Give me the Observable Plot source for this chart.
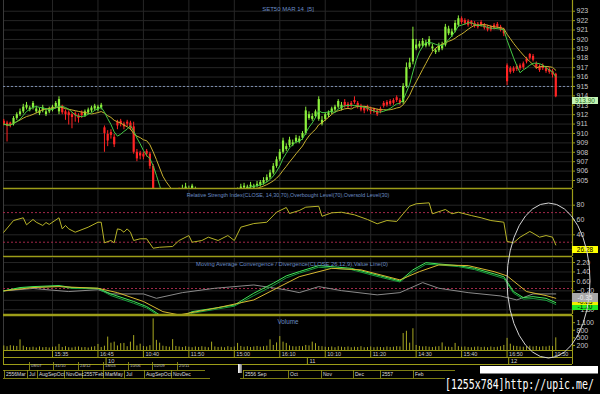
<!DOCTYPE html>
<html><head><meta charset="utf-8">
<script src="https://cdn.jsdelivr.net/npm/d3@7"></script>
<script src="https://cdn.jsdelivr.net/npm/@observablehq/plot@0.6"></script>
<style>
body{margin:0;background:#000;}
#wrap{position:relative;width:600px;height:394px;background:#000;overflow:hidden;font-family:'Liberation Sans',Arial,sans-serif;}
.pn{position:absolute;left:0;width:600px;}
.pn svg{display:block;overflow:visible;}
.box{position:absolute;left:572px;width:26px;height:7px;font-size:6.5px;line-height:7px;text-align:center;}
</style></head>
<body><div id="wrap"></div>
<script>
// ---------- DATA ----------
const title = "SET50 MAR 14  [5]";
const open = [
911.3,911.1,911.1,911.0,911.6,912.0,912.3,912.7,912.5,912.7,
912.3,912.1,912.4,912.0,912.3,912.5,912.8,912.3,912.9,912.3,
912.2,912.0,912.1,911.9,912.2,911.9,912.2,912.4,912.6,912.5,
912.7,910.6,909.9,910.1,909.6,911.2,911.3,911.0,911.2,911.1,
910.7,908.0,907.9,907.8,908.1,907.8,906.5,903.5,902.6,902.2,
902.5,902.9,903.2,903.6,904.0,903.8,904.0,903.9,904.1,903.8,
903.4,903.0,902.8,902.6,902.5,902.8,903.0,902.9,903.1,903.3,
903.4,903.6,903.8,904.0,904.2,904.1,904.3,904.2,904.4,904.5,
904.7,905.0,905.3,905.8,906.5,907.2,908.0,908.3,908.7,908.8,
909.1,909.1,909.5,910.0,911.6,911.5,911.8,911.5,911.0,911.5,
911.9,912.2,912.5,912.8,912.6,913.3,913.1,913.2,913.5,913.2,
912.9,912.7,912.8,912.6,912.6,912.4,912.6,913.2,913.3,913.4,
913.5,913.8,913.5,913.3,915.0,917.0,917.6,919.0,919.2,919.3,
919.3,919.4,919.0,918.6,918.8,919.0,919.4,920.6,920.4,920.9,
921.5,922.2,922.0,921.9,921.9,921.7,921.6,921.8,921.5,921.3,
921.3,921.5,921.6,921.3,921.0,917.2,916.9,916.9,917.1,917.2,
917.4,917.9,918.4,918.2,917.4,917.1,917.2,916.9,916.8,916.6,
916.3];
const high = [
911.5,911.3,911.2,911.8,912.2,912.6,913.1,913.3,912.9,913.4,
912.9,912.7,913.0,912.6,912.8,913.0,913.4,913.9,913.0,912.5,
912.4,912.2,912.3,912.1,912.4,912.5,912.7,912.9,913.1,913.0,
913.2,910.8,910.3,910.4,909.9,911.4,911.5,911.2,911.4,911.3,
911.2,908.3,908.1,908.0,908.3,908.0,906.7,903.7,902.8,902.4,
902.7,903.1,903.4,903.8,904.2,904.5,904.7,904.4,904.6,904.3,
903.7,903.4,903.2,903.0,902.9,903.2,903.4,903.3,903.5,903.7,
903.8,904.0,904.2,904.6,904.7,904.5,904.8,904.6,904.9,905.0,
905.3,905.6,906.1,906.8,907.5,908.3,909.5,908.9,909.6,909.3,
909.8,909.7,910.2,912.8,912.3,912.1,912.5,913.9,911.8,912.2,
912.4,912.8,913.0,913.6,913.3,913.6,913.3,913.4,913.9,913.4,
913.1,912.9,913.0,912.8,912.7,912.6,912.8,913.4,913.5,913.6,
913.7,914.0,913.7,915.3,917.5,918.0,921.3,920.0,919.8,920.1,
919.9,920.3,919.5,919.0,919.6,919.7,921.6,921.4,921.1,922.0,
922.5,922.4,922.2,922.1,922.0,921.9,921.8,922.0,921.7,921.5,
921.5,921.7,921.8,921.5,921.2,917.4,917.1,917.1,917.3,917.4,
917.6,918.1,918.5,918.4,917.6,917.3,917.4,917.1,917.0,916.8,
916.4];
const low = [
910.8,909.1,910.6,910.8,911.4,911.8,912.1,912.5,912.3,912.5,
912.1,911.9,912.2,911.8,912.1,912.3,912.6,912.0,912.0,911.4,
910.9,910.5,911.2,911.1,911.6,911.7,912.0,912.2,912.4,912.3,
912.5,908.0,908.6,909.4,908.5,910.4,910.7,910.4,910.7,910.3,
907.8,907.0,907.2,907.2,907.5,906.2,903.2,902.2,901.7,901.5,
901.9,902.3,902.6,903.0,903.5,903.5,903.8,903.7,903.9,903.6,
903.1,902.8,902.6,902.4,902.3,902.6,902.8,902.7,902.9,903.1,
903.2,903.4,903.6,903.8,904.0,903.9,904.1,904.0,904.2,904.3,
904.5,904.8,905.1,905.6,906.3,907.0,907.8,908.1,908.5,908.6,
908.9,908.9,909.3,909.8,911.4,911.3,911.6,911.3,910.8,911.3,
911.7,912.0,912.3,912.6,912.4,912.7,912.6,912.7,913.1,912.6,
912.3,912.1,912.3,912.0,912.1,911.8,912.1,912.7,912.8,912.9,
913.0,913.3,913.0,913.1,914.8,916.8,917.3,918.8,919.0,919.1,
919.1,919.2,918.7,918.4,918.6,918.8,919.2,920.4,920.2,920.7,
921.3,921.6,921.5,921.3,921.4,921.2,921.1,921.3,921.0,920.8,
920.8,921.0,921.1,920.8,920.3,915.1,916.3,916.4,916.6,916.7,
916.8,917.4,917.8,917.6,916.8,916.5,916.7,916.4,916.3,915.9,
913.8];
const close = [
911.0,910.8,910.9,911.6,912.0,912.3,912.8,913.0,912.7,913.2,
912.6,912.4,912.7,912.3,912.6,912.8,913.2,913.6,912.2,912.0,
911.9,911.7,911.9,911.6,911.9,912.3,912.5,912.7,912.9,912.8,
913.0,910.0,909.2,909.8,908.8,910.8,911.0,910.7,911.0,910.6,
908.0,907.3,907.6,907.5,907.8,906.5,903.5,902.5,902.0,901.8,
902.2,902.6,902.9,903.3,903.8,904.0,904.3,904.1,904.4,904.0,
903.5,903.2,903.0,902.8,902.7,903.0,903.2,903.1,903.3,903.5,
903.6,903.8,904.0,904.3,904.4,904.3,904.5,904.4,904.6,904.8,
905.0,905.3,905.8,906.5,907.2,908.0,909.2,908.6,909.3,909.0,
909.5,909.4,910.0,912.4,912.0,911.8,912.3,913.6,911.4,912.0,
912.2,912.6,912.8,913.4,913.0,912.9,912.8,912.9,913.3,912.8,
912.5,912.4,912.5,912.3,912.3,912.0,912.3,912.9,913.0,913.1,
913.2,913.5,913.2,915.0,917.0,917.5,920.0,919.4,919.5,919.8,
919.6,920.0,919.2,918.8,919.3,919.4,921.3,921.1,920.8,921.7,
922.2,921.8,921.7,921.5,921.6,921.4,921.3,921.5,921.2,921.0,
921.0,921.2,921.3,921.0,920.6,915.5,916.5,916.6,916.8,916.9,
917.0,917.6,918.0,917.8,917.0,916.7,916.9,916.6,916.5,916.2,
913.9];
const volume = [
180,150,190,170,160,420,170,120,110,130,
100,140,110,120,100,130,140,240,120,150,
110,100,130,140,110,120,100,130,150,240,
120,170,530,290,330,180,270,280,150,330,
590,180,250,160,140,190,1250,400,290,170,
150,130,430,160,140,120,150,130,110,140,
120,150,130,110,330,140,120,130,110,150,
120,140,280,160,130,150,120,140,160,130,
150,170,420,200,300,550,330,280,180,150,
140,160,150,200,180,330,270,160,150,130,
120,140,110,150,130,120,140,110,130,120,
150,110,120,140,110,130,120,110,140,120,
130,150,140,670,760,290,860,200,160,140,
150,130,120,140,150,300,140,130,120,280,
150,130,140,120,110,130,140,120,130,110,
140,120,130,150,200,480,250,170,160,140,
130,150,170,140,160,130,150,140,170,160,
500];
const rsiBar = [0,3,6,7,9,10,12,13,14,17,18,19,20,22,26,29,30,31,33,34,35,36,37,38,39,40,42,44,46,48,52,54,57,58,61,63,66,69,71,73,77,81,84,87,88,91,93,97,98,101,104,108,112,115,118,121,123,125,127,131,132,136,138,140,144,147,150,154,155,157,159,162,163,165,167,169,170];
const rsiVal = [43.5,59.3,63,53.5,60.7,57,52.6,56.6,54,63,48,52.6,48,43.5,50.3,57,57,29.2,32.3,29.2,48,47,43.5,48,43.5,32.3,34.6,34.6,21.9,23.2,24.2,32.3,39,30,32.3,36.8,32.3,39,32.3,50.3,55.2,57,70.5,76.9,68.8,72.8,77.3,78.6,65,69.7,70.5,67,60.7,54.9,59.3,58,68.4,78.6,81.9,83.2,68.4,74.2,68.4,70.5,66,63,59.3,57,31,29.2,36.8,44.5,42.2,36.8,39,36.8,26.28];
const macdBar = [0,5,9,17,21,29,33,40,44,48,54,58,71,77,83,87,91,97,107,116,122,126,130,134,140,145,151,154,157,160,163,167,170];
const macdVal = [-0.2,0.08,0.16,0.25,0.08,0.02,-0.46,-1.1,-1.53,-2.24,-2.5,-1.96,-1.4,-0.4,0.44,1.07,1.43,1.94,1.71,1.07,0.64,1.58,2.19,2.08,1.94,1.71,1.24,1.0,-0.26,-0.77,-0.69,-0.83,-1.2];
const macd2Val = [-0.2,0.02,0.1,0.2,0.0,-0.02,-0.6,-1.25,-1.65,-2.35,-2.6,-2.1,-1.5,-0.6,0.25,0.9,1.3,1.8,1.6,0.95,0.55,1.4,2.05,2.0,1.85,1.6,1.1,0.85,-0.4,-0.9,-0.85,-1.0,-1.35];
const sigBar = [0,9,17,29,35,43,49,54,65,77,86,91,101,110,122,128,134,143,151,155,161,167,170];
const sigVal = [-0.2,0.08,0.16,0.02,-0.35,-1.1,-1.96,-2.24,-1.68,-0.97,0.3,1.0,1.71,1.58,0.73,1.43,2.0,1.94,1.43,1.07,-0.26,-0.6,-0.83];
const histBar = [0,9,20,29,33,43,47,55,65,77,87,91,97,104,115,122,129,134,143,153,158,163,170];
const histVal = [-0.2,0.0,-0.26,-0.1,-0.46,-0.46,-0.83,-0.35,0.02,0.3,-0.12,-0.35,0.16,-0.18,-0.54,-0.35,0.5,0.02,-0.35,-0.63,-0.97,-0.46,-0.46];
const gridBars = [15,29,43,57,71,85,99,113,127,141,155,169];
const timeLabels = ["15:35","16:45","10:40","11:50","15:00","16:10","10:10","11:20","14:30","15:40","16:50","10:50"];
const dayStart = [31.5,93.5,155.5];
const dayLabels = ["10","11","12"];
const priceTicks = [905,906,907,908,909,910,911,912,913,914,915,916,917,918,919,920,921,922,923];
const rsiGrid = [20,40,60,80];
const rsiTicks = [40,60,80];
const macdGrid = [2.2,1.4,0.6,-0.2,-1.0,-1.8];
const macdTicks = [2.2,1.4,0.6,-0.2,-1.8];
const volTicks = [200,500,800,1100];
const navDates = ["08/07","31/10","24/12","18/03","10/06","02/09","25/11"];
const navDatePos = [29,53,78,103,128,152,177];
const navMonths = ["2556Mar","Jul","AugSepOct","NovDec","2557Feb","MarMay","Jul","AugSepOct","NovDec","2556 Sep","Oct","Nov","Dec","2557","Feb"];
const navMonthPos = [4,27,37,64,82,103,124,144,171,243,288,321,353,380,413];
const lastPrice = 913.90, lastRsi = 26.28;
const macdLast = [-0.35, -0.83, -1.20];

// ---------- STYLE ----------
const YEL = "#9c9c18", GRID = "#262626", BLUE = "#6a8cc4", TXT = "#c8c8c8";
const FONT = "'Liberation Sans', Arial, sans-serif";
const xDomain = [-0.09, 175.15];
const wrap = document.getElementById("wrap");
function base(h) {
  return {width: 600, height: h, marginLeft: 3, marginRight: 28, marginTop: 0, marginBottom: 0,
    style: {background: "transparent", color: TXT, fontFamily: FONT, fontSize: "7px"},
    x: {domain: xDomain, axis: null}};
}
function place(el, top) {
  const d = document.createElement("div");
  d.className = "pn"; d.style.top = top + "px";
  d.appendChild(el); wrap.appendChild(d); return el;
}
function box(top, bg, fg, txt, h) {
  const b = document.createElement("div");
  b.className = "box"; b.style.top = top + "px"; b.style.background = bg; b.style.color = fg;
  if (h) { b.style.height = h + "px"; b.style.lineHeight = h + "px"; }
  b.textContent = txt; wrap.appendChild(b);
}

const bars = close.map((c, i) => ({i, o: open[i], h: high[i], l: low[i], c, dir: c >= open[i] ? "up" : "down"}));
const vols = volume.map((v, i) => ({i, v}));

// ---------- PRICE ----------
const P_TOP = 0, R_TOP = 189, M_TOP = 257, V_TOP = 315;
const pDom = [904.15, 924.14];
const price = place(Plot.plot({
  ...base(188),
  y: {domain: pDom},
  color: {domain: ["up", "down"], range: ["#8cf03c", "#ff2424"]},
  marks: [
    Plot.ruleY(priceTicks, {stroke: GRID}),
    Plot.ruleX(gridBars, {stroke: GRID}),
    Plot.ruleX([xDomain[0]], {stroke: "#3a3a3a"}),
    Plot.ruleY([915], {stroke: "#7d8fb0", strokeDasharray: "2,2"}),
    Plot.ruleX(bars, {x: "i", y1: "l", y2: "h", stroke: "dir", clip: true}),
    Plot.ruleX(bars, {x: "i", y1: "o", y2: "c", stroke: "dir", strokeWidth: 2.2, clip: true}),
    Plot.lineY(bars, Plot.windowY({k: 10, anchor: "end"}, {x: "i", y: "c", stroke: "#c8b030", strokeWidth: 1, clip: true})),
    Plot.lineY(bars, Plot.windowY({k: 5, anchor: "end"}, {x: "i", y: "c", stroke: "#44c844", strokeWidth: 1, clip: true})),
    Plot.axisY({anchor: "right", ticks: priceTicks, tickSize: 2, tickPadding: 2, label: null, stroke: YEL, fill: TXT, fontSize: 7}),
    Plot.ruleX([xDomain[1]], {stroke: YEL, strokeWidth: 1.2}),
    Plot.ruleY([pDom[0]], {stroke: YEL, strokeWidth: 1.6}),
    Plot.text([title], {text: d => d, frameAnchor: "top", dy: 6, fill: BLUE, fontSize: 6})
  ]
}), P_TOP);
box(P_TOP + price.scale("y").apply(lastPrice) + 0.5, "#c4f4b4", "#2a6a2a", lastPrice.toFixed(2));

// ---------- RSI ----------
const rDom = [10.7, 101.2];
const rsi = place(Plot.plot({
  ...base(67),
  y: {domain: rDom},
  marks: [
    Plot.ruleY(rsiGrid, {stroke: GRID}),
    Plot.ruleX(gridBars, {stroke: GRID}),
    Plot.ruleX([xDomain[0]], {stroke: "#3a3a3a"}),
    Plot.ruleY([70, 30], {stroke: "#a02848", strokeDasharray: "2,2"}),
    Plot.lineY(rsiVal, {x: rsiBar, stroke: "#b8b428", strokeWidth: 1, clip: true}),
    Plot.axisY({anchor: "right", ticks: rsiTicks, tickSize: 2, tickPadding: 2, label: null, stroke: YEL, fill: TXT, fontSize: 7}),
    Plot.ruleX([xDomain[1]], {stroke: YEL, strokeWidth: 1.2}),
    Plot.ruleY([rDom[0]], {stroke: YEL, strokeWidth: 1.6}),
    Plot.text(["Relative Strength Index(CLOSE, 14,30,70),Overbought Level(70),Oversold Level(30)"], {text: d => d, frameAnchor: "top", dy: 4, fill: BLUE, fontSize: 5.4})
  ]
}), R_TOP);
box(R_TOP + rsi.scale("y").apply(lastRsi) + 1.5, "#ffff00", "#000", lastRsi.toFixed(2));

// ---------- MACD ----------
const mDom = [-2.203, 2.627];
const macd = place(Plot.plot({
  ...base(57),
  y: {domain: mDom},
  marks: [
    Plot.ruleY(macdGrid, {stroke: GRID}),
    Plot.ruleX(gridBars, {stroke: GRID}),
    Plot.ruleX([xDomain[0]], {stroke: "#3a3a3a"}),
    Plot.ruleY([0], {stroke: "#a02848", strokeDasharray: "2,2"}),
    Plot.lineY(histVal, {x: histBar, stroke: "#8a8a8a", strokeWidth: 1, clip: true}),
    Plot.lineY(macd2Val, {x: macdBar, stroke: "#179a3a", strokeWidth: 1, clip: true}),
    Plot.lineY(macdVal, {x: macdBar, stroke: "#40e858", strokeWidth: 1, clip: true}),
    Plot.lineY(sigVal, {x: sigBar, stroke: "#d8b830", strokeWidth: 1, clip: true}),
    Plot.axisY({anchor: "right", ticks: macdTicks, tickFormat: d3.format(".2f"), tickSize: 2, tickPadding: 2, label: null, stroke: YEL, fill: TXT, fontSize: 7}),
    Plot.ruleX([xDomain[1]], {stroke: YEL, strokeWidth: 1.2}),
    Plot.ruleY([mDom[0]], {stroke: YEL, strokeWidth: 1.4}),
    Plot.text(["Moving Average Convergence / Divergence(CLOSE,26,12,9),Value Line(0)"], {text: d => d, frameAnchor: "top", dy: 4, dx: 4, fill: BLUE, fontSize: 5.8})
  ]
}), M_TOP);
const my = macd.scale("y");
box(M_TOP + my.apply(macdLast[2]) + 1, "#22e822", "#000", macdLast[2].toFixed(2));
box(M_TOP + my.apply(macdLast[1]) + 0.5, "#f0f000", "#000", macdLast[1].toFixed(2));
box(M_TOP + my.apply(macdLast[0]) + 0.8, "#a8a8a8", "#f0f0f0", macdLast[0].toFixed(2), 9);

// ---------- VOLUME ----------
const vDom = [0, 1383];
place(Plot.plot({
  ...base(35),
  y: {domain: vDom},
  marks: [
    Plot.ruleX(gridBars, {stroke: GRID}),
    Plot.ruleX([xDomain[0]], {stroke: "#3a3a3a"}),
    Plot.ruleX(vols, {x: "i", y: "v", stroke: "#a8a820", strokeWidth: 1}),
    Plot.axisY({anchor: "right", ticks: volTicks, tickFormat: d3.format(","), tickSize: 2, tickPadding: 2, label: null, stroke: YEL, fill: TXT, fontSize: 7}),
    Plot.ruleX([xDomain[1]], {stroke: YEL, strokeWidth: 1.2}),
    Plot.ruleY([vDom[1]], {stroke: YEL, strokeWidth: 1.4}),
    Plot.text(["Volume"], {text: d => d, frameAnchor: "top", dy: 4, fill: BLUE, fontSize: 6.3})
  ]
}), V_TOP);

// ---------- TIME ROW ----------
place(Plot.plot({
  ...base(7),
  y: {domain: [0, 1], axis: null},
  marks: [
    Plot.ruleY([0, 1], {stroke: YEL}),
    Plot.ruleX(gridBars, {stroke: YEL}),
    Plot.ruleX(xDomain, {stroke: YEL}),
    Plot.text(timeLabels, {x: gridBars, text: d => d, frameAnchor: "middle", textAnchor: "start", dx: 2, fill: TXT, fontSize: 5.5})
  ]
}), 350);
place(Plot.plot({
  ...base(7),
  y: {domain: [0, 1], axis: null},
  marks: [
    Plot.ruleY([0], {stroke: YEL}),
    Plot.ruleX(dayStart, {stroke: YEL}),
    Plot.ruleX(xDomain, {stroke: YEL}),
    Plot.text(dayLabels, {x: dayStart, text: d => d, frameAnchor: "middle", textAnchor: "start", dx: 2, fill: TXT, fontSize: 5.8})
  ]
}), 357);

// ---------- NAVIGATOR ----------
place(Plot.plot({
  width: 600, height: 16, margin: 0,
  style: {background: "transparent", color: TXT, fontFamily: FONT},
  x: {domain: [0, 600], axis: null},
  y: {domain: [0, 2], axis: null},
  marks: [
    Plot.ruleY([1], {x1: 3, x2: 205, stroke: YEL, strokeWidth: 0.8}),
    Plot.ruleY([1], {x1: 243, x2: 455, stroke: YEL, strokeWidth: 0.8}),
    Plot.ruleY([0], {x1: 3, x2: 210, stroke: YEL, strokeWidth: 0.8}),
    Plot.ruleY([0], {x1: 240, x2: 445, stroke: YEL, strokeWidth: 0.8}),
    Plot.ruleX(navDatePos, {y1: 1, y2: 2, stroke: YEL, strokeWidth: 0.8}),
    Plot.ruleX(navMonthPos, {y1: 0, y2: 1, stroke: YEL, strokeWidth: 0.8}),
    Plot.text(navDates, {x: navDatePos, y: 1.55, text: d => d, textAnchor: "start", dx: 1.5, fill: "#bbb", fontSize: 4.3}),
    Plot.text(navMonths, {x: navMonthPos, y: 0.5, text: d => d, textAnchor: "start", dx: 1.5, fill: "#ddd", fontSize: 5})
  ]
}), 362);

// ---------- ANNOTATIONS ----------
const ns = "http://www.w3.org/2000/svg";
const ov = document.createElementNS(ns, "svg");
ov.setAttribute("width", 600); ov.setAttribute("height", 394);
ov.style.cssText = "position:absolute;left:0;top:0;pointer-events:none;";
ov.innerHTML = `
<defs><linearGradient id="wg" x1="0" x2="1"><stop offset="0" stop-color="#fff"/><stop offset="1" stop-color="#777"/></linearGradient></defs>
<rect x="238" y="364" width="4" height="9" fill="url(#wg)"/>
<rect x="480" y="366" width="118" height="7.5" fill="#fff"/>
<ellipse cx="548.5" cy="280.5" rx="41.5" ry="77.5" fill="none" stroke="#d4d4d4" stroke-width="1"/>
<text transform="translate(445,389) scale(1,1.4)" font-family="DejaVu Sans Mono, monospace" font-size="9.9" fill="#fff">[1255x784]http://upic.me/</text>`;
wrap.appendChild(ov);
</script>
</body></html>
